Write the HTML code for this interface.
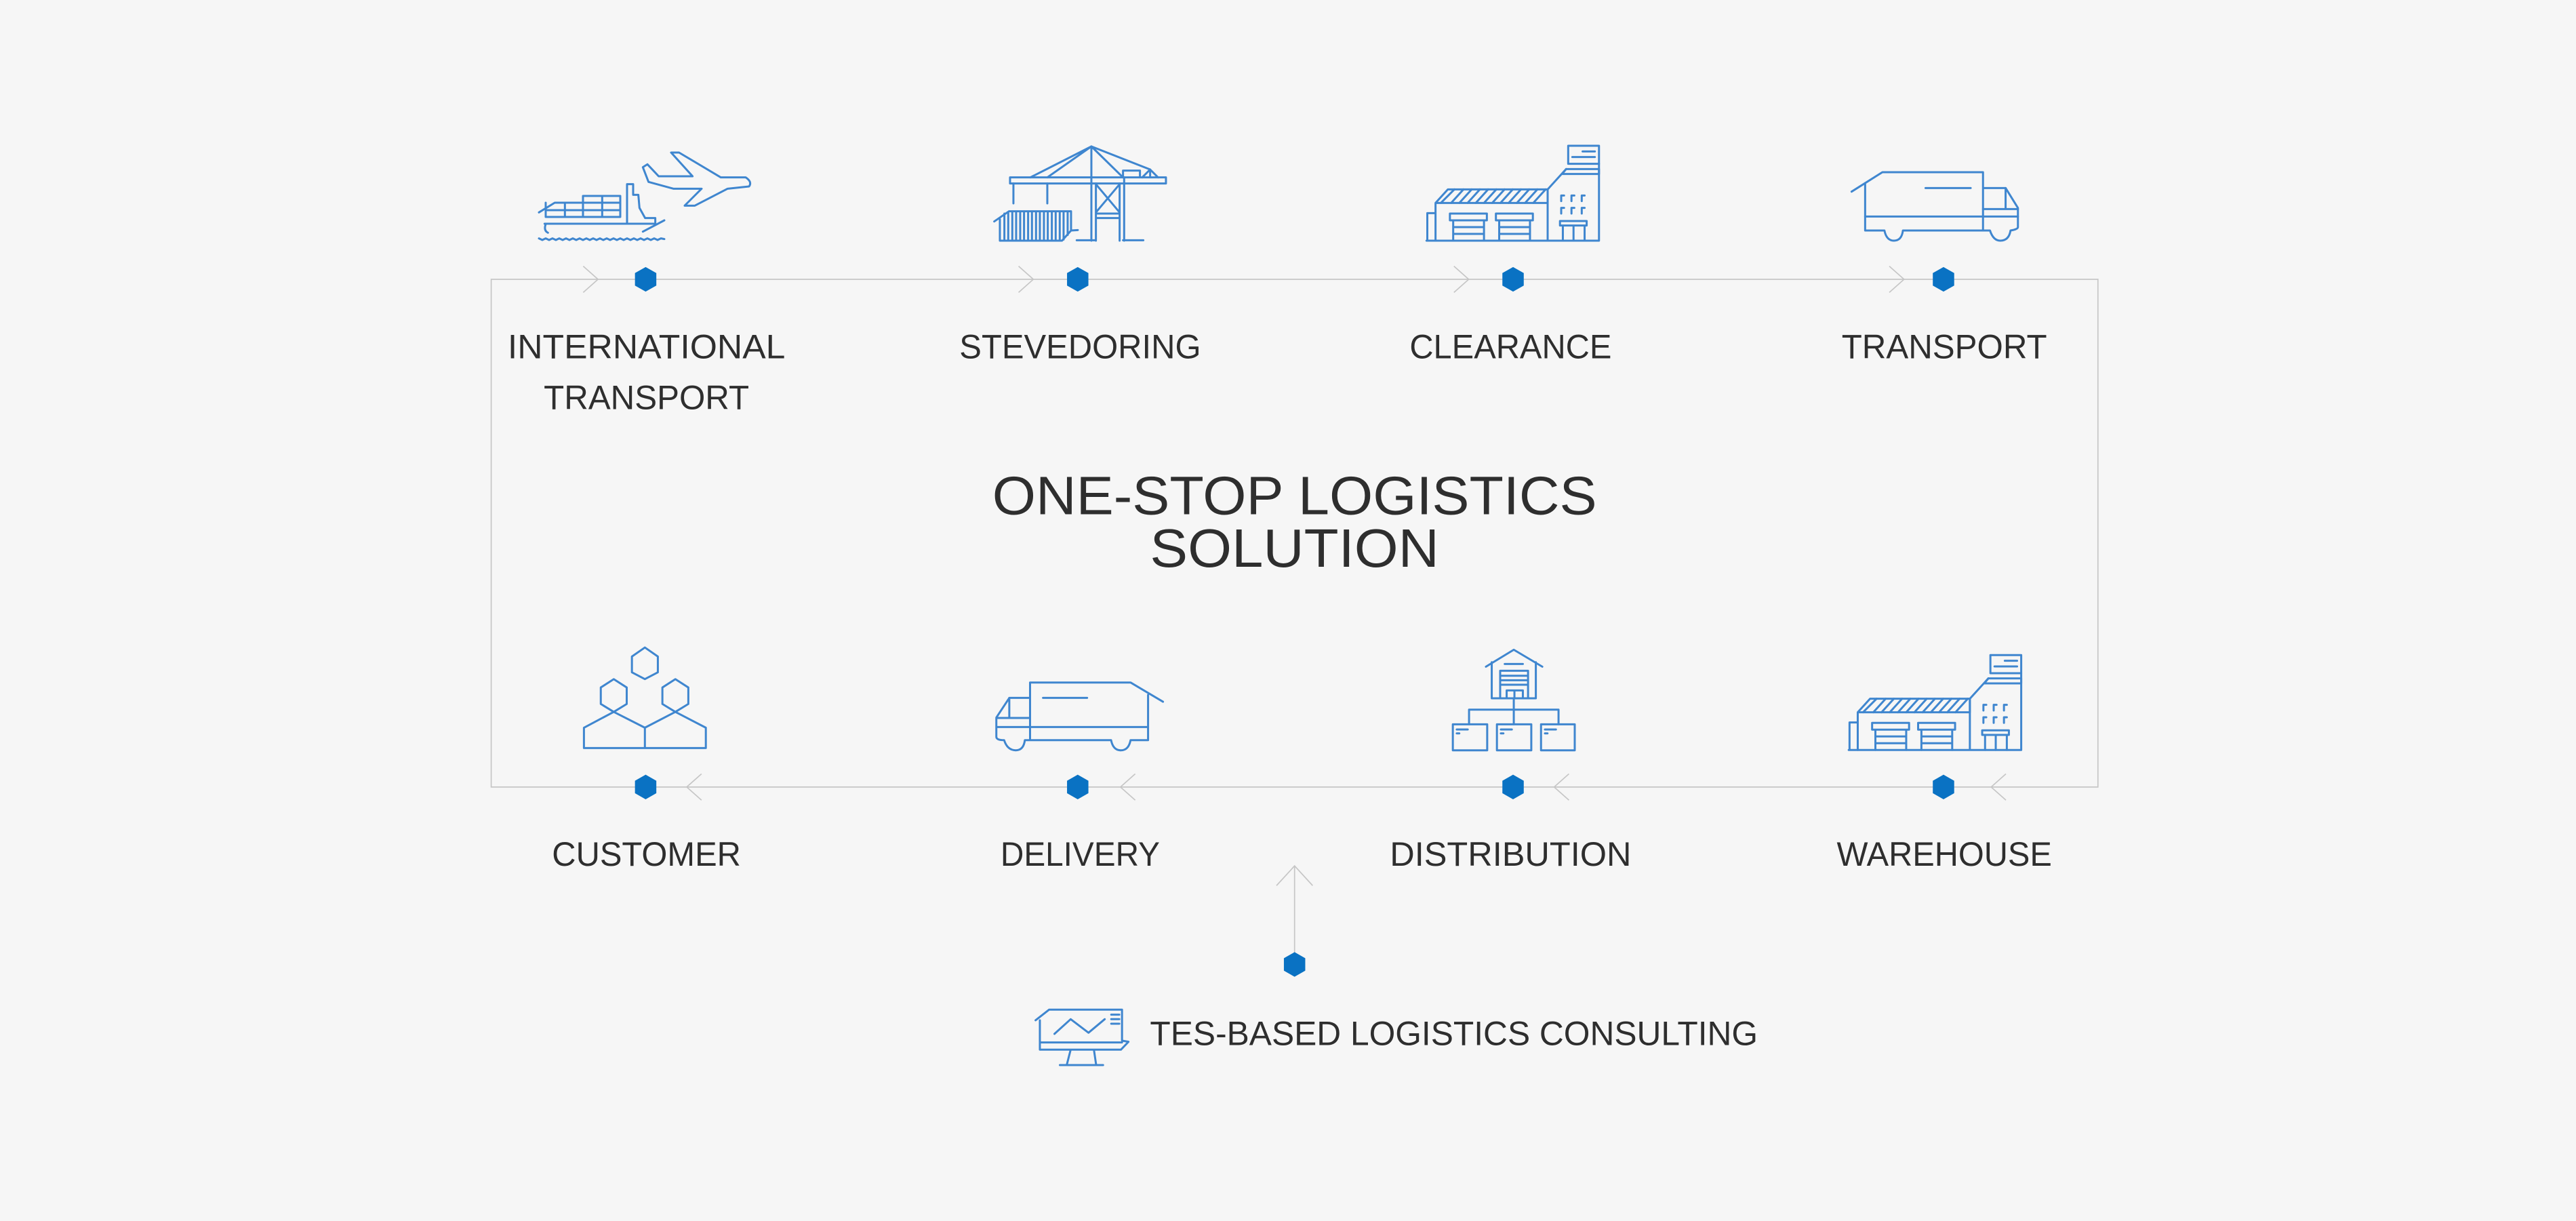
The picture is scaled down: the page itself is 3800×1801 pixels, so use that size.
<!DOCTYPE html>
<html><head><meta charset="utf-8"><style>
html,body{margin:0;padding:0;background:#f6f6f6;}
svg{display:block}
text{font-family:"Liberation Sans",sans-serif;fill:#2e2e2e;}
.ic{fill:none;stroke:#3f86cf;stroke-linejoin:round;stroke-linecap:round}
.ns{vector-effect:non-scaling-stroke;stroke-width:3}
</style></head><body>
<svg width="3800" height="1801" viewBox="0 0 1568 743.15" preserveAspectRatio="none" xmlns="http://www.w3.org/2000/svg">
<rect width="1568" height="743.15" fill="#f6f6f6"/>
<!-- loop lines -->
<g fill="none" stroke="#c6c6c6" stroke-width="0.7">
<path d="M299,170 H1277 V479 H299 Z"/>
<path d="M355,162 L364,170 L355,178 M620,162 L629,170 L620,178 M885,162 L894,170 L885,178 M1150,162 L1159,170 L1150,178"/>
<path d="M427,471 L418,479 L427,487 M691,471 L682,479 L691,487 M955,471 L946,479 L955,487 M1221,471 L1212,479 L1221,487"/>
<path d="M788,587 V527 M777,539 L788,527 L799,539"/>
</g>
<!-- dots -->
<g fill="#0a72c3">
<path id="hx" d="M0,-7.5 L6.5,-3.8 V3.8 L0,7.5 L-6.5,3.8 V-3.8 Z" transform="translate(393,170)"/>
<use href="#hx" transform="translate(263,0)"/>
<use href="#hx" transform="translate(528,0)"/>
<use href="#hx" transform="translate(790,0)"/>
<use href="#hx" transform="translate(0,309)"/>
<use href="#hx" transform="translate(263,309)"/>
<use href="#hx" transform="translate(528,309)"/>
<use href="#hx" transform="translate(790,309)"/>
<use href="#hx" transform="translate(395,417)"/>
</g>
<!-- labels -->
<g font-size="20.5">
<text x="309" y="218" textLength="169" lengthAdjust="spacingAndGlyphs">INTERNATIONAL</text>
<text x="331" y="249" textLength="125" lengthAdjust="spacingAndGlyphs">TRANSPORT</text>
<text x="584" y="218" textLength="147" lengthAdjust="spacingAndGlyphs">STEVEDORING</text>
<text x="858" y="218" textLength="123" lengthAdjust="spacingAndGlyphs">CLEARANCE</text>
<text x="1121" y="218" textLength="125" lengthAdjust="spacingAndGlyphs">TRANSPORT</text>
<text x="336" y="527" textLength="115" lengthAdjust="spacingAndGlyphs">CUSTOMER</text>
<text x="609" y="527" textLength="97" lengthAdjust="spacingAndGlyphs">DELIVERY</text>
<text x="846" y="527" textLength="147" lengthAdjust="spacingAndGlyphs">DISTRIBUTION</text>
<text x="1118" y="527" textLength="131" lengthAdjust="spacingAndGlyphs">WAREHOUSE</text>
<text x="700" y="636" textLength="370" lengthAdjust="spacingAndGlyphs">TES-BASED LOGISTICS CONSULTING</text>
</g>
<g font-size="33">
<text x="604" y="313" textLength="368" lengthAdjust="spacingAndGlyphs">ONE-STOP LOGISTICS</text>
<text x="700" y="345" textLength="176" lengthAdjust="spacingAndGlyphs">SOLUTION</text>
</g>

<!-- ship + plane -->
<g class="ic" stroke-width="9" transform="translate(321.85,86.65) scale(0.13754)">
<path d="M505,110 L525,97 L575,150 L725,150 L630,45 L665,45 L850,155 L960,155 Q990,175 975,195 L880,205 L735,280 L690,280 L765,205 L640,205 L530,175 Z"/>
<path d="M45,310 L115,267 H240 V237 H405 V330 H75 V300 M75,267 V300 H405 M160,267 V330 M240,267 V330 M325,237 V330 M240,267 H405"/>
<path d="M70,360 H560 V335 H515 L490,290 L485,232 H462 V185 H435 V232 M435,232 V360 M75,362 Q65,390 85,400 M505,395 L600,345"/>
<path d="M45,425 L60,432 L75,425 L90,432 L105,425 L120,432 L135,425 L150,432 L165,425 L180,432 L195,425 L210,432 L225,425 L240,432 L255,425 L270,432 L285,425 L300,432 L315,425 L330,432 L345,425 L360,432 L375,425 L390,432 L405,425 L420,432 L435,425 L450,432 L465,425 L480,432 L495,425 L510,432 L525,425 L540,432 L555,425 L570,432 L585,425 L600,428"/>
</g>
<!-- crane -->
<g class="ic" stroke-width="9" transform="translate(598.3,82.53) scale(0.13754)">
<path d="M120,185 H810 V212 H120 Z"/>
<path d="M210,185 L480,48 L285,185 M480,48 L620,185 M480,48 L740,150 L775,185 M740,150 L705,185 M740,150 V185"/>
<path d="M620,185 V155 H695 V185"/>
<path d="M480,48 V465 M500,212 V465 M605,212 V465 M625,185 V465 M500,215 L605,340 M605,215 L500,340 M500,345 H605 M500,365 H605 M415,463 H500 M620,463 H710"/>
<path d="M135,212 V300 M285,212 V300"/>
<path d="M50,380 L115,335 H390 V420 L350,465 H75 V370 M390,420 L420,418"/>
<path d="M95,345 V465 M112,340 V465 M130,340 V465 M147,340 V465 M165,340 V465 M182,340 V465 M200,340 V465 M217,340 V465 M235,340 V465 M252,340 V465 M270,340 V465 M287,340 V465 M305,340 V465 M322,340 V465 M340,340 V465 M357,340 V460 M375,340 V440"/>
</g>
<!-- buildings -->
<g id="bld" class="ic" transform="translate(858.3,82.53) scale(0.25,0.13754)">
<path class="ns" d="M385,45 H460 V125 H385 Z M420,70 H450 M395,95 H450"/>
<path class="ns" d="M380,148 H460 V170 H370 Z"/>
<path class="ns" d="M335,465 V238 L380,148 M460,125 V465 M40,465 H460 M42,465 V343 H60"/>
<path class="ns" d="M62,465 V298 L92,238 H335 V298 H62"/>
<path class="ns" d="M75,298 L108,238 M100,298 L130,238 M120,298 L150,238 M140,298 L170,238 M160,298 L190,238 M180,298 L210,238 M200,298 L230,238 M220,298 L250,238 M240,298 L270,238 M260,298 L290,238 M280,298 L310,238 M300,298 L330,238"/>
<path class="ns" d="M97,345 H187 V375 H97 Z M105,375 V465 M180,375 V465 M105,405 H180 M105,435 H180"/>
<path class="ns" d="M209,345 H299 V375 H209 Z M217,375 V465 M292,375 V465 M217,405 H292 M217,435 H292"/>
<path class="ns" d="M365,378 H430 V398 H365 Z M372,398 V465 M425,398 V465 M398,398 V465"/>
<path class="ns" d="M368,290 V265 H375 M393,290 V265 H400 M418,290 V265 H425 M368,345 V320 H375 M393,345 V320 H400 M418,345 V320 H425"/>
</g>
<use href="#bld" transform="translate(257,310)"/>
<!-- top truck -->
<g class="ic" transform="translate(858.3,82.53) scale(0.25,0.13754)">
<path class="ns" d="M1075,248 L1150,162 H1395 V420 M1108,210 V420 H1155 Q1160,465 1178,465 Q1197,465 1200,420 H1412 Q1420,465 1437,465 Q1458,465 1462,420 Q1480,415 1480,405 V320 L1450,232 H1395"/>
<path class="ns" d="M1108,358 H1480 M1395,325 H1480 M1450,232 V325 M1255,232 H1365"/>
</g>
<!-- bottom row icons -->
<g class="ic" transform="translate(350.7,387.9) scale(0.3947,0.13754)">
<path class="ns" d="M106,45 L126,85 V155 L106,185 L86,155 V85 Z"/>
<path class="ns" d="M58,185 L78,222 V295 L58,330 L38,295 V222 Z"/>
<path class="ns" d="M153,185 L173,222 V295 L153,330 L133,295 V222 Z"/>
<path class="ns" d="M12,490 V400 L58,330 L106,400 L153,330 L200,400 V490 Z M106,400 V490"/>
<path class="ns" d="M700,200 H855 L905,285 M882,255 V455 M700,200 V455 M700,268 H668 L648,355 V440 Q648,455 660,455 Q665,500 678,500 Q690,500 692,455 H825 Q828,500 840,500 Q852,500 855,455 H882 M648,397 H882 M648,357 H700 M668,268 V357 M720,268 H788"/>
<path class="ns" d="M1403,130 L1446,55 L1490,130 M1412,110 V270 H1480 V110 M1425,148 H1468 V270 M1425,148 V270 M1425,170 H1468 M1425,190 H1468 M1425,210 H1468 M1435,235 H1460 V270 M1435,235 V270 M1447,235 V270 M1432,118 H1460"/>
<path class="ns" d="M1446,270 V385 M1377,385 V320 H1515 V385"/>
<path class="ns" d="M1352,385 H1405 V500 H1352 Z M1420,385 H1473 V500 H1420 Z M1488,385 H1540 V500 H1488 Z M1358,408 H1375 M1426,408 H1443 M1494,408 H1511 M1358,425 H1362 M1426,425 H1430 M1494,425 H1498"/>
</g>
<!-- monitor -->
<g class="ic" transform="translate(577.7,495.15) scale(0.32896,0.13754)">
<path class="ns" d="M160,915 L185,868 H320 V1005 L332,1010 L318,1045 H168 V915 M168,1013 H320 M225,1045 L218,1110 M268,1045 L272,1110 M205,1113 H285"/>
<path class="ns" d="M195,975 L225,910 L258,970 L288,910 M300,890 H315 M300,910 H315 M300,930 H315"/>
</g>
</svg>
</body></html>
